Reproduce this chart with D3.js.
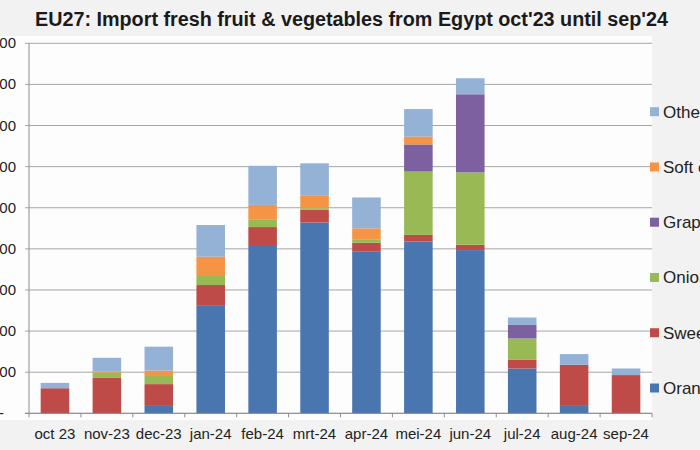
<!DOCTYPE html>
<html><head><meta charset="utf-8">
<script src="https://cdn.jsdelivr.net/npm/d3@7"></script>
<style>body{margin:0;background:#f2f2f2;}svg{display:block;font-family:"Liberation Sans",Arial,sans-serif;}</style>
</head><body>
<svg id="c" width="700" height="450"></svg>
<script>
const months = ["oct 23","nov-23","dec-23","jan-24","feb-24","mrt-24","apr-24","mei-24","jun-24","jul-24","aug-24","sep-24"];
const seriesNames = ["Oranges","Sweet potatoes","Onions","Grapes","Soft citrus","Others"];
const oranges  = [0, 0, 20, 263, 407, 464, 393, 418, 397, 109, 20, 0];
const sweet    = [61, 87, 51, 49, 46, 31, 22, 16, 13, 21, 98, 93];
const onions   = [0, 12, 22, 22, 19, 4, 7, 154, 176, 52, 0, 0];
const grapes   = [0, 0, 0, 0, 0, 0, 0, 66, 190, 33, 0, 0];
const soft     = [0, 2, 11, 47, 35, 30, 28, 19, 0, 0, 0, 0];
const others   = [13, 34, 58, 77, 95, 79, 75, 67, 39, 18, 26, 16];
const yTicks   = [0,100,200,300,400,500,600,700,800,900];
const colors   = ["#4a76b0","#be4b48","#98b954","#7d60a0","#f59445","#94b1d6"];

const svg = d3.select("#c");
const L = 29, R = 652, T = 43.3, B = 413.3;
svg.append("rect").attr("x",0).attr("y",36).attr("width",R).attr("height",384).attr("fill","#fdfdfd");

const x = d3.scaleBand().domain(months).range([L,R]).paddingInner(0.45).paddingOuter(0.225);
const y = d3.scaleLinear().domain([0,900]).range([B,T]);

// grid
svg.append("g").selectAll("line").data(yTicks).join("line")
  .attr("x1",L-4).attr("x2",R).attr("y1",d=>y(d)).attr("y2",d=>y(d))
  .attr("stroke","#a6a6a6").attr("stroke-width",1);

const table = months.map((m,i)=>({month:m,Oranges:oranges[i],"Sweet potatoes":sweet[i],Onions:onions[i],Grapes:grapes[i],"Soft citrus":soft[i],Others:others[i]}));
const stack = d3.stack().keys(seriesNames)(table);
svg.append("g").selectAll("g").data(stack).join("g").attr("fill",(d,i)=>colors[i])
  .selectAll("rect").data(d=>d).join("rect")
  .attr("x",d=>x(d.data.month)).attr("width",x.bandwidth())
  .attr("y",d=>y(d[1])).attr("height",d=>y(d[0])-y(d[1]));

// axes
svg.append("line").attr("x1",L).attr("x2",L).attr("y1",T).attr("y2",B).attr("stroke","#8c8c8c");
svg.append("line").attr("x1",L-4).attr("x2",R).attr("y1",B).attr("y2",B).attr("stroke","#8c8c8c");
svg.append("g").selectAll("line").data(d3.range(months.length+1)).join("line")
  .attr("x1",i=>L+i*(R-L)/months.length).attr("x2",i=>L+i*(R-L)/months.length)
  .attr("y1",B).attr("y2",B+4).attr("stroke","#8c8c8c");

svg.append("g").selectAll("text").data(months).join("text")
  .attr("x",d=>x(d)+x.bandwidth()/2).attr("y",439).attr("text-anchor","middle")
  .attr("font-size",15).attr("fill","#222").text(d=>d);

svg.append("g").selectAll("text").data(yTicks).join("text")
  .attr("x",d=>d===0?4:16).attr("y",d=>y(d)+5).attr("text-anchor","end")
  .attr("font-size",15).attr("fill","#222").text(d=>d===0?"-":d3.format(",")(d*1000).replace(/,/g,"."));

// legend
const ly = d3.scalePoint().domain(seriesNames.slice().reverse()).range([111.7,388]);
const lg = svg.append("g").selectAll("g").data(seriesNames).join("g")
  .attr("transform",d=>`translate(650,${ly(d)})`);
lg.append("rect").attr("x",0).attr("y",-4.5).attr("width",9).attr("height",9).attr("fill",(d,i)=>colors[i]);
lg.append("text").attr("x",13).attr("y",6).attr("font-size",17).attr("fill","#222").text(d=>d);

svg.append("text").attr("x",35).attr("y",26).attr("font-size",20).attr("font-weight","bold")
  .attr("fill","#1a1a1a").attr("textLength",633).attr("lengthAdjust","spacingAndGlyphs")
  .text("EU27: Import fresh fruit & vegetables from Egypt oct'23 until sep'24");
</script>
</body></html>
